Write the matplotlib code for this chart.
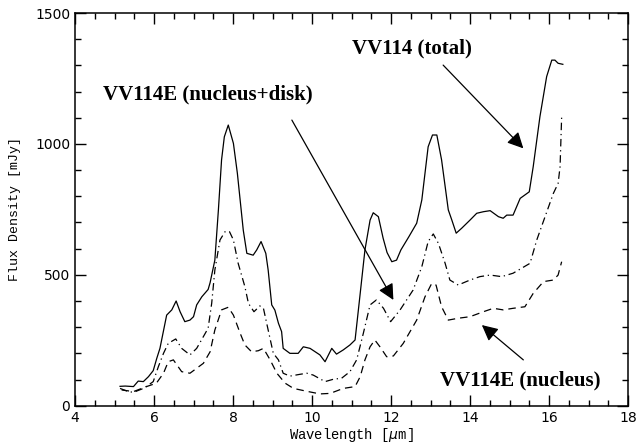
import matplotlib
matplotlib.use("Agg")
import matplotlib.pyplot as plt
from matplotlib.ticker import MultipleLocator

# VV114 (total), solid
wl_total = [5.14, 5.27, 5.48, 5.60, 5.73, 5.86, 5.98, 6.07, 6.15, 6.32, 6.45, 6.56,
            6.66, 6.78, 6.91, 7.00, 7.08, 7.21, 7.37, 7.42, 7.54, 7.63, 7.71, 7.78,
            7.88, 8.01, 8.11, 8.26, 8.35, 8.51, 8.60, 8.71, 8.83, 8.89, 8.98,
            9.06, 9.15, 9.23, 9.27, 9.44, 9.65, 9.78, 9.95, 10.20, 10.33, 10.50, 10.62,
            10.79, 10.96, 11.09, 11.22, 11.34, 11.47, 11.55, 11.68, 11.80, 11.90, 12.02,
            12.14, 12.25, 12.45, 12.65, 12.78, 12.94, 13.05, 13.16, 13.28, 13.45, 13.54,
            13.65, 13.79, 14.00, 14.17, 14.34, 14.51, 14.72, 14.84, 14.93, 15.09, 15.27,
            15.50, 15.60, 15.77, 15.94, 16.07, 16.15, 16.23, 16.35]
flux_total = [74, 75, 73, 94, 92, 111, 134, 181, 219, 346, 366, 400,
              359, 321, 327, 340, 385, 416, 444, 470, 556, 748, 939, 1027,
              1072, 1002, 888, 670, 582, 575, 595, 627, 582, 518, 385,
              365, 315, 283, 219, 200, 200, 225, 219, 194, 168, 219, 197,
              213, 232, 251, 429, 595, 709, 737, 722, 640, 585, 550,
              556, 595, 645, 697, 786, 989, 1034, 1034, 939, 748, 709,
              659, 678, 709, 735, 741, 745, 722, 716, 728, 728, 792,
              817, 913, 1104, 1257, 1320, 1320, 1308, 1304]

# VV114E (nucleus+disk), dash-dot
wl_disk = [5.14, 5.35, 5.48, 5.73, 5.86, 5.98, 6.11, 6.24, 6.36, 6.55, 6.70, 6.91,
           7.08, 7.25, 7.37, 7.46, 7.54, 7.67, 7.80, 7.91, 8.01, 8.13, 8.30, 8.39,
           8.53, 8.68, 8.77, 8.89, 9.02, 9.15, 9.27, 9.44, 9.70, 9.87, 10.03, 10.33,
           10.54, 10.75, 10.96, 11.13, 11.30, 11.47, 11.63, 11.81, 11.99, 12.23, 12.56,
           12.78, 12.94, 13.07, 13.20, 13.37, 13.49, 13.70, 14.00, 14.25, 14.51, 14.80,
           15.09, 15.52, 15.69, 15.90, 16.11, 16.23, 16.28, 16.32]
flux_disk = [66, 54, 51, 66, 79, 92, 149, 200, 238, 255, 219, 194,
             219, 264, 296, 391, 518, 633, 665, 665, 633, 544, 455, 391,
             359, 381, 372, 289, 200, 175, 124, 113, 120, 124, 117, 92,
             101, 105, 130, 175, 277, 385, 404, 372, 321, 366, 442,
             531, 627, 656, 620, 544, 480, 461, 480, 493, 499, 493,
             506, 544, 633, 722, 811, 849, 913, 1104]

# VV114E (nucleus), dashed
wl_nuc = [5.18, 5.48, 5.81, 6.06, 6.24, 6.36, 6.49, 6.70, 6.91, 7.08, 7.25, 7.42,
          7.54, 7.71, 7.88, 8.01, 8.18, 8.30, 8.47, 8.64, 8.77, 8.94, 9.11, 9.32,
          9.53, 9.87, 10.20, 10.46, 10.79, 11.09, 11.22, 11.34, 11.47, 11.59, 11.72,
          11.89, 12.06, 12.31, 12.65, 12.86, 13.03, 13.14, 13.28, 13.45, 13.70, 14.00,
          14.34, 14.59, 14.84, 15.09, 15.39, 15.60, 15.86, 16.11, 16.23, 16.32]
flux_nuc = [60, 54, 73, 86, 124, 168, 175, 130, 124, 143, 162, 206,
            289, 366, 376, 346, 277, 232, 206, 210, 219, 175, 124, 86,
            66, 55, 45, 47, 66, 73, 111, 175, 225, 251, 225,
            187, 190, 238, 327, 416, 467, 461, 378, 327, 334, 340,
            359, 372, 366, 372, 378, 429, 474, 480, 499, 550]

fig = plt.figure(figsize=(6.39, 4.47), dpi=100)
ax = fig.add_axes([0.1174, 0.0924, 0.8654, 0.8785])

lw = 0.9
ax.plot(wl_total, flux_total, color='black', lw=lw, ls='-')
ax.plot(wl_disk, flux_disk, color='black', lw=lw, dashes=(6, 3, 1, 3))
ax.plot(wl_nuc, flux_nuc, color='black', lw=lw, dashes=(6, 4))

ax.set_xlim(4, 18)
ax.set_ylim(0, 1500)
ax.xaxis.set_major_locator(MultipleLocator(2))
ax.xaxis.set_minor_locator(MultipleLocator(0.5))
ax.yaxis.set_major_locator(MultipleLocator(500))
ax.yaxis.set_minor_locator(MultipleLocator(100))
ax.tick_params(which='both', direction='in', top=True, right=True, width=1,
               labelsize=10)
ax.tick_params(which='major', length=8)
ax.tick_params(which='minor', length=4)
for s in ax.spines.values():
    s.set_linewidth(1.1)
for lab in ax.get_xticklabels() + ax.get_yticklabels():
    lab.set_family('DejaVu Sans')

ax.set_xlabel(r'Wavelength [$\mu$m]', family='Liberation Mono', fontsize=10,
              labelpad=1)
ax.set_ylabel('Flux Density [mJy]', family='Liberation Mono', fontsize=9.5,
              labelpad=10)

tfont = dict(family='Liberation Serif', weight='bold', fontsize=15)
arw = dict(arrowstyle='-|>', color='black', lw=0.9, mutation_scale=24,
           shrinkA=0, shrinkB=0)

ax.text(11.0, 1366, 'VV114 (total)', va='center', ha='left', **tfont)
ax.annotate('', xy=(15.35, 983), xytext=(13.32, 1301), arrowprops=arw)

ax.text(4.71, 1187, 'VV114E (nucleus+disk)', va='center', ha='left', **tfont)
ax.annotate('', xy=(12.06, 404), xytext=(9.49, 1091), arrowprops=arw)

ax.text(13.24, 98, 'VV114E (nucleus)', va='center', ha='left', **tfont)
ax.annotate('', xy=(14.30, 308), xytext=(15.35, 175), arrowprops=arw)

fig.savefig('out.png', dpi=100)
